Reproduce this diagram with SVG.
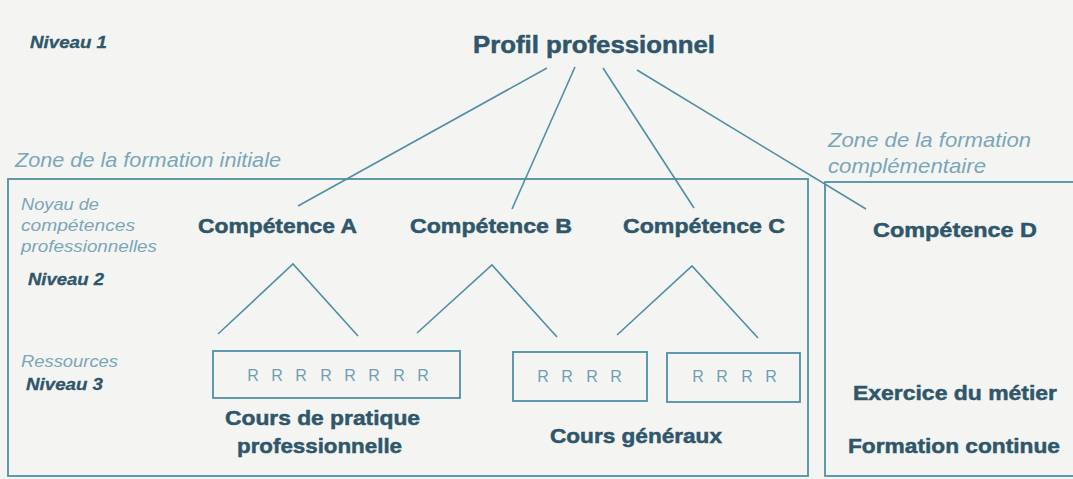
<svg xmlns="http://www.w3.org/2000/svg" width="1073" height="479" viewBox="0 0 1073 479">
<style>
.bg{fill:#f4f5f3}
.ln{stroke:#4f8fa6;stroke-width:1.6;fill:none}
.bx{stroke:#4f8fa6;stroke-width:1.8;fill:none}
.b{font-family:"Liberation Sans",Arial,Helvetica,sans-serif;font-weight:bold;fill:#2f566a;stroke:#2f566a;stroke-width:0.5}
.lv{font-family:"Liberation Sans",Arial,Helvetica,sans-serif;font-weight:bold;font-style:italic;fill:#2f566a;stroke:#2f566a;stroke-width:0.3}
.it{font-family:"Liberation Sans",Arial,Helvetica,sans-serif;font-style:italic;fill:#7aa6b8}
.r{font-family:"Liberation Sans",Arial,Helvetica,sans-serif;fill:#6d9fb3;font-size:16px;text-anchor:middle}
</style>
<rect class="bg" x="0" y="0" width="1073" height="479"/>
<g id="zones">
<rect class="bx" x="8" y="179" width="800" height="297"/>
<rect class="bx" x="825" y="182" width="260" height="294"/>
<text class="it" x="15" y="167" font-size="21" textLength="266" lengthAdjust="spacingAndGlyphs">Zone de la formation initiale</text>
<text class="it" x="828" y="147" font-size="21" textLength="203" lengthAdjust="spacingAndGlyphs">Zone de la formation</text>
<text class="it" x="828" y="173" font-size="21" textLength="158" lengthAdjust="spacingAndGlyphs">complémentaire</text>
</g>
<g id="levels">
<text class="lv" x="30" y="48" font-size="16" textLength="77" lengthAdjust="spacingAndGlyphs">Niveau 1</text>
<text class="it" x="21" y="210" font-size="16" textLength="78" lengthAdjust="spacingAndGlyphs">Noyau de</text>
<text class="it" x="21" y="231" font-size="16" textLength="114" lengthAdjust="spacingAndGlyphs">compétences</text>
<text class="it" x="21" y="252" font-size="16" textLength="136" lengthAdjust="spacingAndGlyphs">professionnelles</text>
<text class="lv" x="28" y="285" font-size="16" textLength="76" lengthAdjust="spacingAndGlyphs">Niveau 2</text>
<text class="it" x="21" y="367" font-size="16" textLength="97" lengthAdjust="spacingAndGlyphs">Ressources</text>
<text class="lv" x="26" y="390" font-size="16" textLength="77" lengthAdjust="spacingAndGlyphs">Niveau 3</text>
</g>
<g id="connectors">
<line class="ln" x1="547" y1="68" x2="298" y2="206"/>
<line class="ln" x1="575" y1="67" x2="512" y2="209"/>
<line class="ln" x1="603" y1="68" x2="694" y2="208"/>
<line class="ln" x1="637" y1="70" x2="866" y2="209"/>
<polyline class="ln" points="218,334 293,264 358,336"/>
<polyline class="ln" points="417,333 492,265 557,337"/>
<polyline class="ln" points="617,335 692,266 758,338"/>
</g>
<g id="profil">
<text class="b" x="473" y="53" font-size="23" textLength="242" lengthAdjust="spacingAndGlyphs">Profil professionnel</text>
</g>
<g id="compA">
<text class="b" x="198" y="233" font-size="21" textLength="159" lengthAdjust="spacingAndGlyphs">Compétence A</text>
</g>
<g id="compB">
<text class="b" x="410" y="233" font-size="21" textLength="162" lengthAdjust="spacingAndGlyphs">Compétence B</text>
</g>
<g id="compC">
<text class="b" x="623" y="233" font-size="21" textLength="162" lengthAdjust="spacingAndGlyphs">Compétence C</text>
</g>
<g id="compD">
<text class="b" x="873" y="237" font-size="21" textLength="164" lengthAdjust="spacingAndGlyphs">Compétence D</text>
</g>
<g id="ressources1">
<rect class="bx" x="213" y="351" width="247" height="47"/>
<text class="r" y="381"><tspan x="253">R</tspan><tspan x="277">R</tspan><tspan x="301">R</tspan><tspan x="326">R</tspan><tspan x="350">R</tspan><tspan x="374">R</tspan><tspan x="399">R</tspan><tspan x="423">R</tspan></text>
<text class="b" x="225" y="425" font-size="21" textLength="195" lengthAdjust="spacingAndGlyphs">Cours de pratique</text>
<text class="b" x="237" y="453" font-size="21" textLength="165" lengthAdjust="spacingAndGlyphs">professionnelle</text>
</g>
<g id="ressources2">
<rect class="bx" x="513" y="352" width="134" height="49"/>
<text class="r" y="382"><tspan x="543">R</tspan><tspan x="567">R</tspan><tspan x="592">R</tspan><tspan x="616">R</tspan></text>
</g>
<g id="ressources3">
<rect class="bx" x="667" y="353" width="133" height="49"/>
<text class="r" y="382"><tspan x="698">R</tspan><tspan x="722">R</tspan><tspan x="747">R</tspan><tspan x="771">R</tspan></text>
<text class="b" x="550" y="443" font-size="21" textLength="172" lengthAdjust="spacingAndGlyphs">Cours généraux</text>
</g>
<g id="metier">
<text class="b" x="853" y="400" font-size="21" textLength="204" lengthAdjust="spacingAndGlyphs">Exercice du métier</text>
<text class="b" x="848" y="453" font-size="21" textLength="212" lengthAdjust="spacingAndGlyphs">Formation continue</text>
</g>
</svg>
